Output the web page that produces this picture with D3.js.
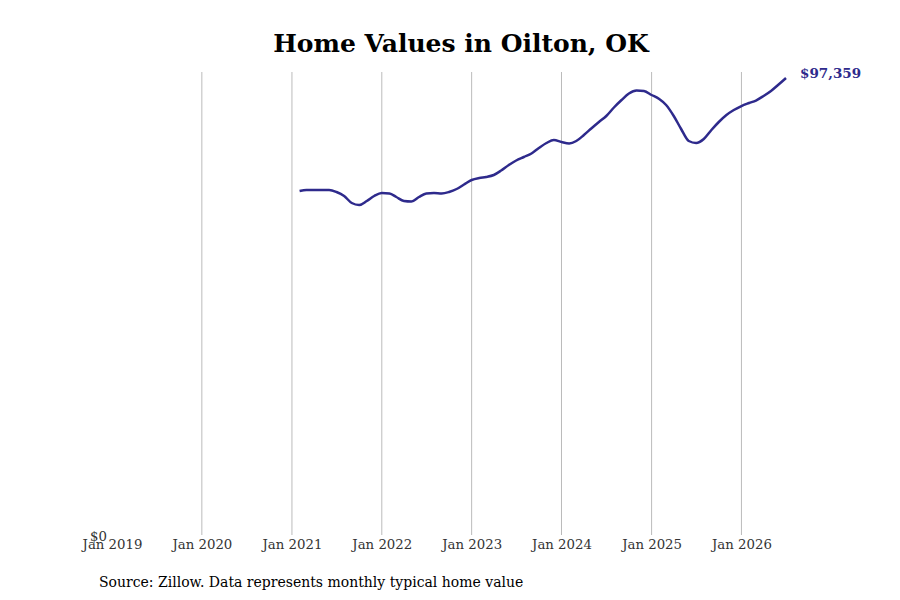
<!DOCTYPE html>
<html>
<head>
<meta charset="utf-8">
<script src="https://cdn.jsdelivr.net/npm/d3@7"></script>
<style>
  body { margin: 0; background: #fff; }
  text { font-family: "DejaVu Serif", serif; }
</style>
</head>
<body>
<svg id="chart" width="900" height="600"></svg>
<script>
// monthly typical home value, Feb 2021 .. Jul 2026
var startMonth = "2021-02";
var values = [
  73286, 73499, 73499, 73499, 73499, 73073, 72221, 70729, 70303, 71155, 72221,
  72860, 72753, 72008, 71155, 71049, 72008, 72753, 72860, 72753, 73073, 73712, 74671,
  75629, 76055, 76268, 76694, 77653, 78825, 79783, 80529, 81275, 82446, 83512, 84151,
  83725, 83405, 83938, 85216, 86601, 87986, 89264, 91075, 92672, 94057, 94696, 94590,
  93738, 92885, 91607, 89264, 86494, 83938, 83512, 84364, 86281, 87986, 89477, 90542,
  91394, 92033, 92566, 93525, 94590, 95974, 97359
];
var tickYears = [2019, 2020, 2021, 2022, 2023, 2024, 2025, 2026];
var title = "Home Values in Oilton, OK";
var source = "Source: Zillow. Data represents monthly typical home value";

var parse = d3.timeParse("%Y-%m");
var t0 = parse(startMonth);
var data = values.map(function(v, i){ return { date: d3.timeMonth.offset(t0, i), value: v }; });
var last = data[data.length - 1];

// plot box (note: "top" is reserved on window, so use plot* names)
var plotLeft = 112, plotRight = 786, plotTop = 72, plotBottom = 535;

var x = d3.scaleTime()
  .domain([new Date(2019, 0, 1), last.date])
  .range([plotLeft, plotRight]);
var y = d3.scaleLinear()
  .domain([0, 98640])
  .range([plotBottom, plotTop]);

var svg = d3.select("#chart");

svg.append("text")
  .attr("x", 461).attr("y", 52)
  .attr("text-anchor", "middle")
  .style("font-size", "25px").style("font-weight", "bold").style("fill", "#000")
  .text(title);

// vertical grid lines
var ticks = tickYears.map(function(yr){ return new Date(yr, 0, 1); });
svg.append("g").selectAll("line")
  .data(ticks.slice(1))
  .enter().append("line")
  .attr("x1", function(d){ return x(d); }).attr("x2", function(d){ return x(d); })
  .attr("y1", plotTop).attr("y2", plotBottom)
  .attr("stroke", "#bbb").attr("stroke-width", 1);

// x axis labels
var xAxis = d3.axisBottom(x)
  .tickValues(ticks)
  .tickFormat(d3.timeFormat("Jan %Y"))
  .tickSize(0).tickPadding(5);
var gx = svg.append("g").attr("transform", "translate(0," + plotBottom + ")").call(xAxis);
gx.select(".domain").remove();
gx.selectAll("text").style("font-family", "DejaVu Serif, serif").style("font-size", "13.3px").style("fill", "#333");

// y axis: only $0 (sits on top of the first date label, like the original)
var yAxis = d3.axisLeft(y).tickValues([0]).tickFormat(function(d){ return "$" + d3.format(",")(d); })
  .tickSize(0).tickPadding(5);
var gy = svg.append("g").attr("transform", "translate(" + plotLeft + ",0)").call(yAxis);
gy.select(".domain").remove();
gy.selectAll("text").style("font-family", "DejaVu Serif, serif").style("font-size", "13.3px").style("fill", "#333")
  .attr("dy", "0.4em");

var line = d3.line()
  .x(function(d){ return x(d.date); })
  .y(function(d){ return y(d.value); })
  .curve(d3.curveMonotoneX);

svg.append("path")
  .datum(data)
  .attr("d", line)
  .attr("fill", "none")
  .attr("stroke", "#2e2a8c")
  .attr("stroke-width", 2.5)
  .attr("stroke-linejoin", "round");

svg.append("text")
  .attr("x", x(last.date) + 14).attr("y", y(last.value) - 5)
  .attr("dy", "0.35em")
  .style("font-size", "13.5px").style("font-weight", "bold").style("fill", "#2e2a8c")
  .text("$" + d3.format(",")(last.value));

svg.append("text")
  .attr("x", 99).attr("y", 587)
  .style("font-size", "14px").style("fill", "#000")
  .text(source);
</script>
</body>
</html>
